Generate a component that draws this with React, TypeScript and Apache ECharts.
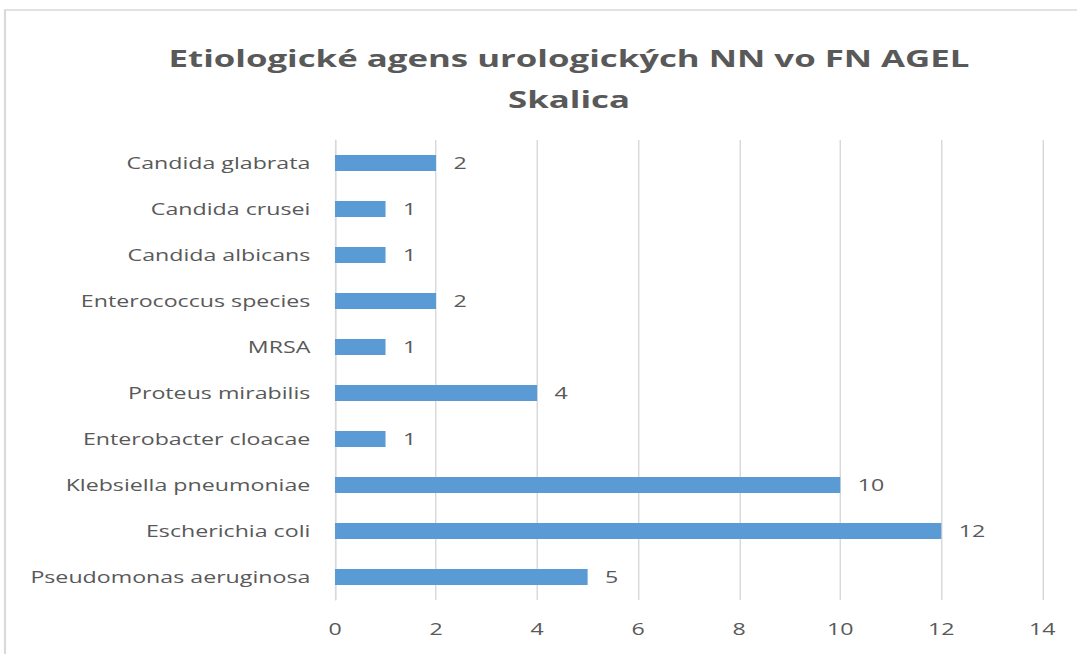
import React, { useEffect, useRef } from "react";
import * as echarts from "echarts";

const categories = [
  "Pseudomonas aeruginosa",
  "Escherichia coli",
  "Klebsiella pneumoniae",
  "Enterobacter cloacae",
  "Proteus mirabilis",
  "MRSA",
  "Enterococcus species",
  "Candida albicans",
  "Candida crusei",
  "Candida glabrata",
];
const values = [5, 12, 10, 1, 4, 1, 2, 1, 1, 2];
const titleText = "Etiologické agens urologických NN vo FN AGEL\nSkalica";

const S = 1.45;
const W = 1077 / S;
const H = 654;
const FONT = "'Open Sans', 'Noto Sans', sans-serif";
const GRAY = "#595959";

export default function App() {
  const ref = useRef<HTMLDivElement>(null);
  useEffect(() => {
    if (!ref.current) return;
    const chart = echarts.init(ref.current, undefined, { renderer: "svg" });
    chart.setOption({
      animation: false,
      backgroundColor: "#ffffff",
      graphic: [
        {
          type: "rect",
          shape: { x: 5 / S, y: 10, width: 2000, height: 2000 },
          style: { fill: "none", stroke: "#d9d9d9", lineWidth: 1.5 },
          silent: true,
        },
        {
          type: "text",
          x: 569 / S,
          y: 37,
          style: {
            text: titleText,
            fill: GRAY,
            font: `bold 24px ${FONT}`,
            textAlign: "center",
            textVerticalAlign: "top",
            lineHeight: 41,
          },
        },
      ],
      grid: { left: 335 / S, right: W - 1042 / S, top: 140, bottom: H - 600 },
      xAxis: {
        type: "value",
        min: 0,
        max: 14,
        interval: 2,
        axisLine: { show: false },
        axisTick: { show: false },
        splitLine: { show: true, lineStyle: { color: "#d9d9d9", width: 1 } },
        axisLabel: { color: GRAY, fontFamily: FONT, fontSize: 16, margin: 21 },
      },
      yAxis: {
        type: "category",
        data: categories,
        axisLine: { show: true, lineStyle: { color: "#d9d9d9", width: 1 } },
        axisTick: { show: false },
        axisLabel: { color: GRAY, fontFamily: FONT, fontSize: 16, margin: 17 },
      },
      series: [
        {
          type: "bar",
          data: values,
          barWidth: 16,
          itemStyle: { color: "#5B9BD5" },
          label: {
            show: true,
            position: "right",
            distance: 12,
            color: GRAY,
            fontFamily: FONT,
            fontSize: 16,
          },
        },
      ],
    });
    return () => chart.dispose();
  }, []);
  return (
    <div
      style={{
        position: "fixed",
        left: 0,
        top: 0,
        width: 1077,
        height: 654,
        overflow: "hidden",
        background: "#fff",
      }}
    >
      <div
        ref={ref}
        style={{
          width: W,
          height: H,
          transform: `scaleX(${S})`,
          transformOrigin: "0 0",
        }}
      />
    </div>
  );
}
